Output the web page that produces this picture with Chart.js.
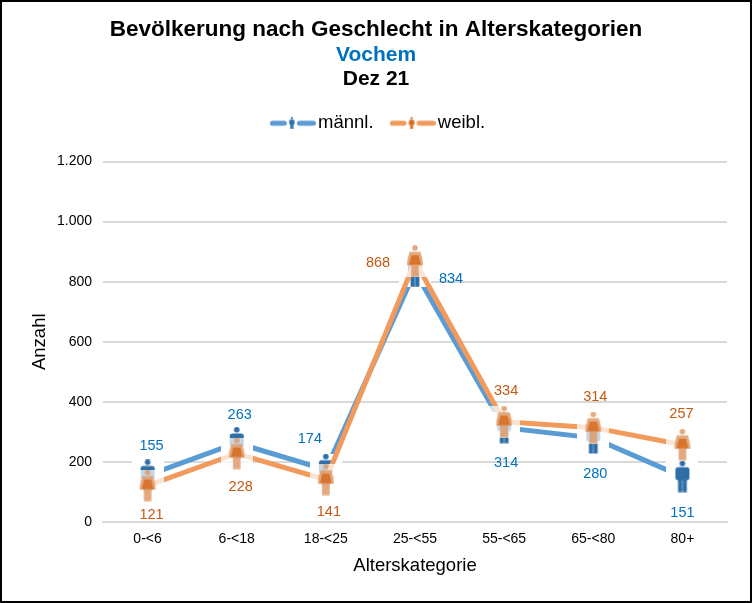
<!DOCTYPE html>
<html>
<head>
<meta charset="utf-8">
<style>
  html, body { margin: 0; padding: 0; background: #fff; }
  canvas { display: block; }
</style>
<script src="https://cdn.jsdelivr.net/npm/chart.js@4"></script>
</head>
<body>
<canvas id="myChart" width="752" height="603"></canvas>
<script>
var categories = ["0-<6", "6-<18", "18-<25", "25-<55", "55-<65", "65-<80", "80+"];
var maleValues = [155, 263, 174, 834, 314, 280, 151];
var femaleValues = [121, 228, 141, 868, 334, 314, 257];
var seriesNames = ["männl.", "weibl."];
var yTicks = [0, 200, 400, 600, 800, 1000, 1200];

var FONT = '"Liberation Sans", Arial, sans-serif';
var BLUE_LINE = "#5b9bd5", BLUE_DARK = "#2e6fa8", BLUE_TEXT = "#0070c0";
var ORANGE_LINE = "#f29a5c", ORANGE_DARK = "#d66c20", ORANGE_TEXT = "#c55a11";

// little person icons, used as point styles
function drawMale(c, cx, top, s, color) {
  c.fillStyle = color;
  c.beginPath();
  c.arc(cx, top + 2.8 * s, 2.8 * s, 0, Math.PI * 2);
  c.fill();
  c.beginPath();
  c.roundRect(cx - 7 * s, top + 6.5 * s, 14 * s, 13 * s, 2.5 * s);
  c.fill();
  c.fillRect(cx - 4.4 * s, top + 16 * s, 4.2 * s, 15.5 * s);
  c.fillRect(cx + 0.2 * s, top + 16 * s, 4.2 * s, 15.5 * s);
}

function drawFemale(c, cx, top, s, color, dark) {
  c.fillStyle = color;
  c.beginPath();
  c.arc(cx, top + 2.8 * s, 2.8 * s, 0, Math.PI * 2);
  c.fill();
  c.beginPath();
  c.moveTo(cx - 5.5 * s, top + 6.5 * s);
  c.lineTo(cx + 5.5 * s, top + 6.5 * s);
  c.lineTo(cx + 7.5 * s, top + 14 * s);
  c.lineTo(cx + 8 * s, top + 20 * s);
  c.lineTo(cx - 8 * s, top + 20 * s);
  c.lineTo(cx - 7.5 * s, top + 14 * s);
  c.closePath();
  c.fill();
  c.fillRect(cx - 3.8 * s, top + 20 * s, 7.6 * s, 11.5 * s);
  c.fillStyle = dark;
  c.beginPath();
  c.moveTo(cx - 3.5 * s, top + 10 * s);
  c.lineTo(cx + 3.5 * s, top + 10 * s);
  c.lineTo(cx + 6 * s, top + 19.5 * s);
  c.lineTo(cx - 6 * s, top + 19.5 * s);
  c.closePath();
  c.fill();
}

function makeMarker(isFemale) {
  var cv = document.createElement("canvas");
  cv.width = 32;
  cv.height = 32;
  var c = cv.getContext("2d");
  if (isFemale) {
    c.fillStyle = "rgba(255,255,255,0.72)";
    c.fillRect(0, 0, 32, 32);
    c.globalAlpha = 0.85;
    drawFemale(c, 16, 0, 1, "#e09a68", ORANGE_DARK);
  } else {
    c.fillStyle = "#fff";
    c.fillRect(0, 0, 32, 32);
    drawMale(c, 16, 0, 1, BLUE_DARK);
  }
  return cv;
}

function makeLegendMark(lineColor, iconColor, isFemale) {
  var cv = document.createElement("canvas");
  cv.width = 46;
  cv.height = 12;
  var c = cv.getContext("2d");
  c.fillStyle = lineColor;
  c.beginPath();
  c.roundRect(0, 3.5, 17, 5, 2.5);
  c.roundRect(27, 3.5, 19, 5, 2.5);
  c.fill();
  if (isFemale) drawFemale(c, 22, 0, 0.375, iconColor, iconColor);
  else drawMale(c, 22, 0, 0.375, iconColor);
  return cv;
}

var maleLegendMark = makeLegendMark(BLUE_LINE, BLUE_DARK, false);
var femaleLegendMark = makeLegendMark(ORANGE_LINE, ORANGE_DARK, true);

// offsets of the value labels from their point, male and female
var maleLabelOffsets = [[4, -29], [3, -28], [-16, -31], [36, 8], [2, 35], [2, 36], [0, 36]];
var femaleLabelOffsets = [[4, 29], [4, 33], [3, 32], [-37, 1.5], [2, -31], [2, -31], [-1, -31]];

var titlePlugin = {
  id: "headerAndFrame",
  beforeDraw: function (chart) {
    var c = chart.ctx;
    c.save();
    c.fillStyle = "#fff";
    c.fillRect(0, 0, chart.width, chart.height);
    c.textAlign = "center";
    c.textBaseline = "middle";
    c.fillStyle = "#000";
    c.font = "bold 22.5px " + FONT;
    c.fillText("Bevölkerung nach Geschlecht in Alterskategorien", 376, 30);
    c.fillStyle = BLUE_TEXT;
    c.font = "bold 21px " + FONT;
    c.fillText("Vochem", 376, 55);
    c.fillStyle = "#000";
    c.fillText("Dez 21", 376, 79);
    c.restore();
  },
  afterDraw: function (chart) {
    var c = chart.ctx;
    c.save();
    c.strokeStyle = "#000";
    c.lineWidth = 2;
    c.strokeRect(1, 1, chart.width - 2, chart.height - 2);
    c.restore();
  },
};

var valueLabelPlugin = {
  id: "valueLabels",
  afterDatasetsDraw: function (chart) {
    var c = chart.ctx;
    var offsets = [maleLabelOffsets, femaleLabelOffsets];
    var colors = [BLUE_TEXT, ORANGE_TEXT];
    c.save();
    c.font = "14.5px " + FONT;
    c.textAlign = "center";
    c.textBaseline = "middle";
    chart.data.datasets.forEach(function (dataset, d) {
      chart.getDatasetMeta(d).data.forEach(function (pt, i) {
        c.fillStyle = colors[d];
        c.fillText(String(dataset.data[i]), pt.x + offsets[d][i][0], pt.y + offsets[d][i][1]);
      });
    });
    c.restore();
  },
};

// the legend sits a bit right of centre and higher than the layout puts it
var legendShift = {
  id: "legendShift",
  afterLayout: function (chart) {
    chart.legend.left += 3;
    chart.legend.right += 3;
    chart.legend.top -= 19;
    chart.legend.bottom -= 19;
  },
};

var ctx = document.getElementById("myChart").getContext("2d");

var myChart = new Chart(ctx, {
  type: "line",
  data: {
    labels: categories,
    datasets: [
      {
        label: seriesNames[0],
        data: maleValues,
        borderColor: BLUE_LINE,
        backgroundColor: BLUE_LINE,
        borderWidth: 5,
        tension: 0,
        order: 2,
        pointStyle: makeMarker(false),
      },
      {
        label: seriesNames[1],
        data: femaleValues,
        borderColor: ORANGE_LINE,
        backgroundColor: ORANGE_LINE,
        borderWidth: 5,
        tension: 0,
        order: 1,
        pointStyle: makeMarker(true),
      },
    ],
  },
  options: {
    responsive: false,
    animation: false,
    locale: "de-DE",
    layout: { padding: { left: 29, right: 25, top: 110, bottom: 26 } },
    scales: {
      x: {
        offset: true,
        grid: { display: false },
        border: { color: "#d9d9d9", width: 2 },
        ticks: { color: "#000", font: { family: FONT, size: 14 }, padding: 1, maxRotation: 0 },
        title: { display: true, text: "Alterskategorie", color: "#000", font: { family: FONT, size: 18.5 }, padding: { top: 6, bottom: 0 } },
      },
      y: {
        min: 0,
        max: 1200,
        afterFit: function (axis) { axis.width = 74; },
        afterBuildTicks: function (axis) {
          axis.ticks = yTicks.map(function (v) { return { value: v }; });
        },
        grid: { color: "#d9d9d9", lineWidth: 2, drawTicks: false },
        border: { display: false },
        ticks: { color: "#000", font: { family: FONT, size: 14 }, padding: 11 },
        title: { display: true, text: "Anzahl", color: "#000", font: { family: FONT, size: 18.5 }, padding: 0 },
      },
    },
    plugins: {
      legend: {
        position: "top",
        labels: {
          usePointStyle: true,
          pointStyleWidth: 32,
          color: "#000",
          font: { family: FONT, size: 18.5 },
          boxHeight: 12,
          padding: 23,
          generateLabels: function (chart) {
            return [
              { text: seriesNames[0], pointStyle: maleLegendMark, datasetIndex: 0, fontColor: "#000", lineWidth: 0 },
              { text: seriesNames[1], pointStyle: femaleLegendMark, datasetIndex: 1, fontColor: "#000", lineWidth: 0 },
            ];
          },
        },
      },
      title: { display: false },
      tooltip: { enabled: false },
    },
  },
  plugins: [titlePlugin, valueLabelPlugin, legendShift],
});
</script>
</body>
</html>
